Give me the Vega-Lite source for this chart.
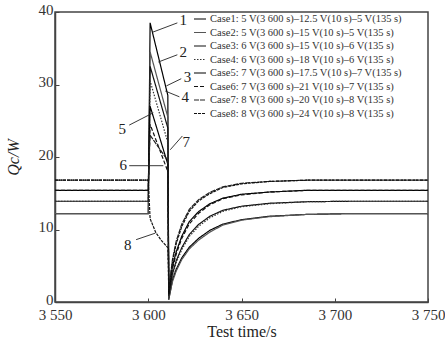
{
  "$schema": "https://vega.github.io/schema/vega-lite/v6.json",
  "width": 373,
  "height": 290,
  "autosize": {"type": "none"},
  "padding": {"left": 55, "top": 12, "right": 17, "bottom": 52},
  "background": "white",
  "config": {
    "font": "Liberation Serif",
    "view": {"stroke": "#444", "strokeWidth": 1.5},
    "axis": {
      "grid": false,
      "domainColor": "#444",
      "domainWidth": 1.5,
      "tickColor": "#444",
      "tickSize": -4,
      "labelFont": "Liberation Serif",
      "labelFontSize": 15,
      "labelColor": "#333",
      "titleFont": "Liberation Serif",
      "titleFontSize": 16,
      "titleFontWeight": "normal",
      "titleColor": "#222"
    },
    "legend": {
      "labelFont": "Liberation Serif",
      "labelFontSize": 10.5,
      "labelColor": "#333",
      "labelLimit": 0
    }
  },
  "layer": [
    {
      "data": {"values": [
        {"case": "Case1: 5 V(3 600 s)–12.5 V(10 s)–5 V(135 s)", "t": 3550, "q": 12.2},
        {"case": "Case1: 5 V(3 600 s)–12.5 V(10 s)–5 V(135 s)", "t": 3600, "q": 12.2},
        {"case": "Case1: 5 V(3 600 s)–12.5 V(10 s)–5 V(135 s)", "t": 3601, "q": 38.5},
        {"case": "Case1: 5 V(3 600 s)–12.5 V(10 s)–5 V(135 s)", "t": 3610.5, "q": 28.5},
        {"case": "Case1: 5 V(3 600 s)–12.5 V(10 s)–5 V(135 s)", "t": 3611, "q": 0.3},
        {"case": "Case1: 5 V(3 600 s)–12.5 V(10 s)–5 V(135 s)", "t": 3613, "q": 3.05},
        {"case": "Case1: 5 V(3 600 s)–12.5 V(10 s)–5 V(135 s)", "t": 3615, "q": 4.51},
        {"case": "Case1: 5 V(3 600 s)–12.5 V(10 s)–5 V(135 s)", "t": 3618, "q": 6.1},
        {"case": "Case1: 5 V(3 600 s)–12.5 V(10 s)–5 V(135 s)", "t": 3622, "q": 7.56},
        {"case": "Case1: 5 V(3 600 s)–12.5 V(10 s)–5 V(135 s)", "t": 3627, "q": 8.78},
        {"case": "Case1: 5 V(3 600 s)–12.5 V(10 s)–5 V(135 s)", "t": 3633, "q": 9.88},
        {"case": "Case1: 5 V(3 600 s)–12.5 V(10 s)–5 V(135 s)", "t": 3640, "q": 10.74},
        {"case": "Case1: 5 V(3 600 s)–12.5 V(10 s)–5 V(135 s)", "t": 3650, "q": 11.35},
        {"case": "Case1: 5 V(3 600 s)–12.5 V(10 s)–5 V(135 s)", "t": 3665, "q": 11.83},
        {"case": "Case1: 5 V(3 600 s)–12.5 V(10 s)–5 V(135 s)", "t": 3685, "q": 12.08},
        {"case": "Case1: 5 V(3 600 s)–12.5 V(10 s)–5 V(135 s)", "t": 3710, "q": 12.2},
        {"case": "Case1: 5 V(3 600 s)–12.5 V(10 s)–5 V(135 s)", "t": 3750, "q": 12.2},

        {"case": "Case2: 5 V(3 600 s)–15 V(10 s)–5 V(135 s)", "t": 3550, "q": 12.2},
        {"case": "Case2: 5 V(3 600 s)–15 V(10 s)–5 V(135 s)", "t": 3600, "q": 12.2},
        {"case": "Case2: 5 V(3 600 s)–15 V(10 s)–5 V(135 s)", "t": 3601, "q": 34.5},
        {"case": "Case2: 5 V(3 600 s)–15 V(10 s)–5 V(135 s)", "t": 3610.5, "q": 25.5},
        {"case": "Case2: 5 V(3 600 s)–15 V(10 s)–5 V(135 s)", "t": 3611, "q": 0.5},
        {"case": "Case2: 5 V(3 600 s)–15 V(10 s)–5 V(135 s)", "t": 3613, "q": 2.81},
        {"case": "Case2: 5 V(3 600 s)–15 V(10 s)–5 V(135 s)", "t": 3615, "q": 4.27},
        {"case": "Case2: 5 V(3 600 s)–15 V(10 s)–5 V(135 s)", "t": 3618, "q": 5.86},
        {"case": "Case2: 5 V(3 600 s)–15 V(10 s)–5 V(135 s)", "t": 3622, "q": 7.32},
        {"case": "Case2: 5 V(3 600 s)–15 V(10 s)–5 V(135 s)", "t": 3627, "q": 8.54},
        {"case": "Case2: 5 V(3 600 s)–15 V(10 s)–5 V(135 s)", "t": 3633, "q": 9.64},
        {"case": "Case2: 5 V(3 600 s)–15 V(10 s)–5 V(135 s)", "t": 3640, "q": 10.61},
        {"case": "Case2: 5 V(3 600 s)–15 V(10 s)–5 V(135 s)", "t": 3650, "q": 11.29},
        {"case": "Case2: 5 V(3 600 s)–15 V(10 s)–5 V(135 s)", "t": 3665, "q": 11.77},
        {"case": "Case2: 5 V(3 600 s)–15 V(10 s)–5 V(135 s)", "t": 3685, "q": 12.08},
        {"case": "Case2: 5 V(3 600 s)–15 V(10 s)–5 V(135 s)", "t": 3710, "q": 12.2},
        {"case": "Case2: 5 V(3 600 s)–15 V(10 s)–5 V(135 s)", "t": 3750, "q": 12.2},

        {"case": "Case3: 6 V(3 600 s)–15 V(10 s)–6 V(135 s)", "t": 3550, "q": 13.9},
        {"case": "Case3: 6 V(3 600 s)–15 V(10 s)–6 V(135 s)", "t": 3600, "q": 13.9},
        {"case": "Case3: 6 V(3 600 s)–15 V(10 s)–6 V(135 s)", "t": 3601, "q": 32.5},
        {"case": "Case3: 6 V(3 600 s)–15 V(10 s)–6 V(135 s)", "t": 3610.5, "q": 24},
        {"case": "Case3: 6 V(3 600 s)–15 V(10 s)–6 V(135 s)", "t": 3611, "q": 0.8},
        {"case": "Case3: 6 V(3 600 s)–15 V(10 s)–6 V(135 s)", "t": 3613, "q": 3.89},
        {"case": "Case3: 6 V(3 600 s)–15 V(10 s)–6 V(135 s)", "t": 3615, "q": 5.7},
        {"case": "Case3: 6 V(3 600 s)–15 V(10 s)–6 V(135 s)", "t": 3618, "q": 7.51},
        {"case": "Case3: 6 V(3 600 s)–15 V(10 s)–6 V(135 s)", "t": 3622, "q": 9.31},
        {"case": "Case3: 6 V(3 600 s)–15 V(10 s)–6 V(135 s)", "t": 3627, "q": 10.7},
        {"case": "Case3: 6 V(3 600 s)–15 V(10 s)–6 V(135 s)", "t": 3633, "q": 11.82},
        {"case": "Case3: 6 V(3 600 s)–15 V(10 s)–6 V(135 s)", "t": 3640, "q": 12.65},
        {"case": "Case3: 6 V(3 600 s)–15 V(10 s)–6 V(135 s)", "t": 3650, "q": 13.21},
        {"case": "Case3: 6 V(3 600 s)–15 V(10 s)–6 V(135 s)", "t": 3665, "q": 13.62},
        {"case": "Case3: 6 V(3 600 s)–15 V(10 s)–6 V(135 s)", "t": 3685, "q": 13.83},
        {"case": "Case3: 6 V(3 600 s)–15 V(10 s)–6 V(135 s)", "t": 3710, "q": 13.9},
        {"case": "Case3: 6 V(3 600 s)–15 V(10 s)–6 V(135 s)", "t": 3750, "q": 13.9},

        {"case": "Case4: 6 V(3 600 s)–18 V(10 s)–6 V(135 s)", "t": 3550, "q": 13.9},
        {"case": "Case4: 6 V(3 600 s)–18 V(10 s)–6 V(135 s)", "t": 3600, "q": 13.9},
        {"case": "Case4: 6 V(3 600 s)–18 V(10 s)–6 V(135 s)", "t": 3601, "q": 30.5},
        {"case": "Case4: 6 V(3 600 s)–18 V(10 s)–6 V(135 s)", "t": 3610.5, "q": 22},
        {"case": "Case4: 6 V(3 600 s)–18 V(10 s)–6 V(135 s)", "t": 3611, "q": 0.6},
        {"case": "Case4: 6 V(3 600 s)–18 V(10 s)–6 V(135 s)", "t": 3613, "q": 3.61},
        {"case": "Case4: 6 V(3 600 s)–18 V(10 s)–6 V(135 s)", "t": 3615, "q": 5.42},
        {"case": "Case4: 6 V(3 600 s)–18 V(10 s)–6 V(135 s)", "t": 3618, "q": 7.23},
        {"case": "Case4: 6 V(3 600 s)–18 V(10 s)–6 V(135 s)", "t": 3622, "q": 9.04},
        {"case": "Case4: 6 V(3 600 s)–18 V(10 s)–6 V(135 s)", "t": 3627, "q": 10.43},
        {"case": "Case4: 6 V(3 600 s)–18 V(10 s)–6 V(135 s)", "t": 3633, "q": 11.61},
        {"case": "Case4: 6 V(3 600 s)–18 V(10 s)–6 V(135 s)", "t": 3640, "q": 12.51},
        {"case": "Case4: 6 V(3 600 s)–18 V(10 s)–6 V(135 s)", "t": 3650, "q": 13.14},
        {"case": "Case4: 6 V(3 600 s)–18 V(10 s)–6 V(135 s)", "t": 3665, "q": 13.55},
        {"case": "Case4: 6 V(3 600 s)–18 V(10 s)–6 V(135 s)", "t": 3685, "q": 13.83},
        {"case": "Case4: 6 V(3 600 s)–18 V(10 s)–6 V(135 s)", "t": 3710, "q": 13.9},
        {"case": "Case4: 6 V(3 600 s)–18 V(10 s)–6 V(135 s)", "t": 3750, "q": 13.9},

        {"case": "Case5: 7 V(3 600 s)–17.5 V(10 s)–7 V(135 s)", "t": 3550, "q": 15.4},
        {"case": "Case5: 7 V(3 600 s)–17.5 V(10 s)–7 V(135 s)", "t": 3600, "q": 15.4},
        {"case": "Case5: 7 V(3 600 s)–17.5 V(10 s)–7 V(135 s)", "t": 3601, "q": 27},
        {"case": "Case5: 7 V(3 600 s)–17.5 V(10 s)–7 V(135 s)", "t": 3610.5, "q": 19},
        {"case": "Case5: 7 V(3 600 s)–17.5 V(10 s)–7 V(135 s)", "t": 3611, "q": 1.2},
        {"case": "Case5: 7 V(3 600 s)–17.5 V(10 s)–7 V(135 s)", "t": 3613, "q": 4.93},
        {"case": "Case5: 7 V(3 600 s)–17.5 V(10 s)–7 V(135 s)", "t": 3615, "q": 6.93},
        {"case": "Case5: 7 V(3 600 s)–17.5 V(10 s)–7 V(135 s)", "t": 3618, "q": 9.09},
        {"case": "Case5: 7 V(3 600 s)–17.5 V(10 s)–7 V(135 s)", "t": 3622, "q": 11.09},
        {"case": "Case5: 7 V(3 600 s)–17.5 V(10 s)–7 V(135 s)", "t": 3627, "q": 12.47},
        {"case": "Case5: 7 V(3 600 s)–17.5 V(10 s)–7 V(135 s)", "t": 3633, "q": 13.55},
        {"case": "Case5: 7 V(3 600 s)–17.5 V(10 s)–7 V(135 s)", "t": 3640, "q": 14.32},
        {"case": "Case5: 7 V(3 600 s)–17.5 V(10 s)–7 V(135 s)", "t": 3650, "q": 14.86},
        {"case": "Case5: 7 V(3 600 s)–17.5 V(10 s)–7 V(135 s)", "t": 3665, "q": 15.17},
        {"case": "Case5: 7 V(3 600 s)–17.5 V(10 s)–7 V(135 s)", "t": 3685, "q": 15.4},
        {"case": "Case5: 7 V(3 600 s)–17.5 V(10 s)–7 V(135 s)", "t": 3710, "q": 15.4},
        {"case": "Case5: 7 V(3 600 s)–17.5 V(10 s)–7 V(135 s)", "t": 3750, "q": 15.4},

        {"case": "Case6: 7 V(3 600 s)–21 V(10 s)–7 V(135 s)", "t": 3550, "q": 15.4},
        {"case": "Case6: 7 V(3 600 s)–21 V(10 s)–7 V(135 s)", "t": 3600, "q": 15.4},
        {"case": "Case6: 7 V(3 600 s)–21 V(10 s)–7 V(135 s)", "t": 3601, "q": 24.5},
        {"case": "Case6: 7 V(3 600 s)–21 V(10 s)–7 V(135 s)", "t": 3610.5, "q": 18},
        {"case": "Case6: 7 V(3 600 s)–21 V(10 s)–7 V(135 s)", "t": 3611, "q": 1.0},
        {"case": "Case6: 7 V(3 600 s)–21 V(10 s)–7 V(135 s)", "t": 3613, "q": 4.62},
        {"case": "Case6: 7 V(3 600 s)–21 V(10 s)–7 V(135 s)", "t": 3615, "q": 6.62},
        {"case": "Case6: 7 V(3 600 s)–21 V(10 s)–7 V(135 s)", "t": 3618, "q": 8.78},
        {"case": "Case6: 7 V(3 600 s)–21 V(10 s)–7 V(135 s)", "t": 3622, "q": 10.78},
        {"case": "Case6: 7 V(3 600 s)–21 V(10 s)–7 V(135 s)", "t": 3627, "q": 12.24},
        {"case": "Case6: 7 V(3 600 s)–21 V(10 s)–7 V(135 s)", "t": 3633, "q": 13.4},
        {"case": "Case6: 7 V(3 600 s)–21 V(10 s)–7 V(135 s)", "t": 3640, "q": 14.25},
        {"case": "Case6: 7 V(3 600 s)–21 V(10 s)–7 V(135 s)", "t": 3650, "q": 14.78},
        {"case": "Case6: 7 V(3 600 s)–21 V(10 s)–7 V(135 s)", "t": 3665, "q": 15.17},
        {"case": "Case6: 7 V(3 600 s)–21 V(10 s)–7 V(135 s)", "t": 3685, "q": 15.4},
        {"case": "Case6: 7 V(3 600 s)–21 V(10 s)–7 V(135 s)", "t": 3710, "q": 15.4},
        {"case": "Case6: 7 V(3 600 s)–21 V(10 s)–7 V(135 s)", "t": 3750, "q": 15.4},

        {"case": "Case7: 8 V(3 600 s)–20 V(10 s)–8 V(135 s)", "t": 3550, "q": 16.8},
        {"case": "Case7: 8 V(3 600 s)–20 V(10 s)–8 V(135 s)", "t": 3600, "q": 16.8},
        {"case": "Case7: 8 V(3 600 s)–20 V(10 s)–8 V(135 s)", "t": 3601, "q": 23},
        {"case": "Case7: 8 V(3 600 s)–20 V(10 s)–8 V(135 s)", "t": 3610.5, "q": 19.5},
        {"case": "Case7: 8 V(3 600 s)–20 V(10 s)–8 V(135 s)", "t": 3611, "q": 1.8},
        {"case": "Case7: 8 V(3 600 s)–20 V(10 s)–8 V(135 s)", "t": 3613, "q": 5.88},
        {"case": "Case7: 8 V(3 600 s)–20 V(10 s)–8 V(135 s)", "t": 3615, "q": 8.4},
        {"case": "Case7: 8 V(3 600 s)–20 V(10 s)–8 V(135 s)", "t": 3618, "q": 10.75},
        {"case": "Case7: 8 V(3 600 s)–20 V(10 s)–8 V(135 s)", "t": 3622, "q": 12.77},
        {"case": "Case7: 8 V(3 600 s)–20 V(10 s)–8 V(135 s)", "t": 3627, "q": 14.11},
        {"case": "Case7: 8 V(3 600 s)–20 V(10 s)–8 V(135 s)", "t": 3633, "q": 15.12},
        {"case": "Case7: 8 V(3 600 s)–20 V(10 s)–8 V(135 s)", "t": 3640, "q": 15.88},
        {"case": "Case7: 8 V(3 600 s)–20 V(10 s)–8 V(135 s)", "t": 3650, "q": 16.38},
        {"case": "Case7: 8 V(3 600 s)–20 V(10 s)–8 V(135 s)", "t": 3665, "q": 16.63},
        {"case": "Case7: 8 V(3 600 s)–20 V(10 s)–8 V(135 s)", "t": 3685, "q": 16.8},
        {"case": "Case7: 8 V(3 600 s)–20 V(10 s)–8 V(135 s)", "t": 3710, "q": 16.8},
        {"case": "Case7: 8 V(3 600 s)–20 V(10 s)–8 V(135 s)", "t": 3750, "q": 16.8},

        {"case": "Case8: 8 V(3 600 s)–24 V(10 s)–8 V(135 s)", "t": 3550, "q": 16.8},
        {"case": "Case8: 8 V(3 600 s)–24 V(10 s)–8 V(135 s)", "t": 3600, "q": 16.8},
        {"case": "Case8: 8 V(3 600 s)–24 V(10 s)–8 V(135 s)", "t": 3601, "q": 11.5},
        {"case": "Case8: 8 V(3 600 s)–24 V(10 s)–8 V(135 s)", "t": 3604, "q": 9.6},
        {"case": "Case8: 8 V(3 600 s)–24 V(10 s)–8 V(135 s)", "t": 3607, "q": 8.5},
        {"case": "Case8: 8 V(3 600 s)–24 V(10 s)–8 V(135 s)", "t": 3610.5, "q": 7.5},
        {"case": "Case8: 8 V(3 600 s)–24 V(10 s)–8 V(135 s)", "t": 3611, "q": 1.5},
        {"case": "Case8: 8 V(3 600 s)–24 V(10 s)–8 V(135 s)", "t": 3613, "q": 5.54},
        {"case": "Case8: 8 V(3 600 s)–24 V(10 s)–8 V(135 s)", "t": 3615, "q": 8.06},
        {"case": "Case8: 8 V(3 600 s)–24 V(10 s)–8 V(135 s)", "t": 3618, "q": 10.42},
        {"case": "Case8: 8 V(3 600 s)–24 V(10 s)–8 V(135 s)", "t": 3622, "q": 12.52},
        {"case": "Case8: 8 V(3 600 s)–24 V(10 s)–8 V(135 s)", "t": 3627, "q": 13.94},
        {"case": "Case8: 8 V(3 600 s)–24 V(10 s)–8 V(135 s)", "t": 3633, "q": 14.95},
        {"case": "Case8: 8 V(3 600 s)–24 V(10 s)–8 V(135 s)", "t": 3640, "q": 15.79},
        {"case": "Case8: 8 V(3 600 s)–24 V(10 s)–8 V(135 s)", "t": 3650, "q": 16.3},
        {"case": "Case8: 8 V(3 600 s)–24 V(10 s)–8 V(135 s)", "t": 3665, "q": 16.63},
        {"case": "Case8: 8 V(3 600 s)–24 V(10 s)–8 V(135 s)", "t": 3685, "q": 16.8},
        {"case": "Case8: 8 V(3 600 s)–24 V(10 s)–8 V(135 s)", "t": 3710, "q": 16.8},
        {"case": "Case8: 8 V(3 600 s)–24 V(10 s)–8 V(135 s)", "t": 3750, "q": 16.8}
      ]},
      "mark": {"type": "line", "clip": true},
      "encoding": {
        "x": {
          "field": "t", "type": "quantitative",
          "scale": {"domain": [3550, 3750], "nice": false, "zero": false},
          "axis": {
            "title": "Test time/s",
            "values": [3550, 3600, 3650, 3700, 3750],
            "labelExpr": "replace(format(datum.value, ','), ',', ' ')",
            "labelPadding": 9,
            "titlePadding": 1,
            "labelFlush": false
          }
        },
        "y": {
          "field": "q", "type": "quantitative",
          "scale": {"domain": [0, 40], "nice": false},
          "axis": {
            "title": "Qc/W",
            "titleFontStyle": "italic",
            "values": [0, 5, 10, 15, 20, 25, 30, 35, 40],
            "labelPadding": 6,
            "labelOffset": -3,
            "titleX": -37,
            "titleY": 145,
            "titleAngle": -90,
            "titleAlign": "center",
            "titleBaseline": "alphabetic"
          }
        },
        "color": {
          "field": "case", "type": "nominal",
          "scale": {"range": ["#000", "#555", "#111", "#333", "#000", "#111", "#222", "#111"]},
          "legend": {
            "title": null,
            "orient": "none",
            "legendX": 138,
            "legendY": 0,
            "symbolType": "stroke",
            "symbolSize": 144,
            "rowPadding": 0.5,
            "labelOffset": 3,
            "labelLimit": 0,
            "padding": 0
          }
        },
        "strokeWidth": {
          "field": "case", "type": "nominal",
          "scale": {"range": [1.2, 1.2, 2, 1.3, 3, 2.2, 1.8, 1.5]},
          "legend": {
            "title": null,
            "orient": "none",
            "legendX": 138,
            "legendY": 0,
            "symbolType": "stroke",
            "symbolSize": 144,
            "rowPadding": 0.5,
            "labelOffset": 3,
            "labelLimit": 0,
            "padding": 0
          }
        },
        "strokeDash": {
          "field": "case", "type": "nominal",
          "scale": {"range": [[1, 0], [1, 0], [1, 0], [1.5, 1.5], [1, 0], [4, 2], [5, 1], [3, 1]]},
          "legend": {
            "title": null,
            "orient": "none",
            "legendX": 138,
            "legendY": 0,
            "symbolType": "stroke",
            "symbolSize": 144,
            "rowPadding": 0.5,
            "labelOffset": 3,
            "labelLimit": 0,
            "padding": 0
          }
        }
      }
    },
    {
      "data": {"values": [
        {"t": 3615.6, "q": 38.5, "t2": 3602.2, "q2": 37.2},
        {"t": 3615.6, "q": 34.1, "t2": 3605.4, "q2": 33.1},
        {"t": 3617.7, "q": 30.8, "t2": 3609.7, "q2": 29.8},
        {"t": 3616.7, "q": 28.3, "t2": 3609.1, "q2": 29.1},
        {"t": 3589.8, "q": 24.4, "t2": 3602.7, "q2": 26.1},
        {"t": 3589.8, "q": 18.8, "t2": 3608.1, "q2": 18.8},
        {"t": 3618.3, "q": 22.9, "t2": 3611.8, "q2": 21.0},
        {"t": 3593.5, "q": 8.6, "t2": 3603.8, "q2": 9.5}
      ]},
      "mark": {"type": "rule", "color": "#222", "strokeWidth": 0.9},
      "encoding": {
        "x": {"field": "t", "type": "quantitative", "title": "Test time/s"},
        "y": {"field": "q", "type": "quantitative", "title": "Qc/W"},
        "x2": {"field": "t2"},
        "y2": {"field": "q2"}
      }
    },
    {
      "data": {"values": [
        {"t": 3618.8, "q": 38.9, "label": "1"},
        {"t": 3618.8, "q": 34.5, "label": "2"},
        {"t": 3621.0, "q": 31.0, "label": "3"},
        {"t": 3619.9, "q": 28.3, "label": "4"},
        {"t": 3586.0, "q": 23.9, "label": "5"},
        {"t": 3586.6, "q": 18.9, "label": "6"},
        {"t": 3620.4, "q": 22.1, "label": "7"},
        {"t": 3589.0, "q": 7.9, "label": "8"}
      ]},
      "mark": {"type": "text", "fontSize": 15, "font": "Liberation Serif", "color": "#222", "baseline": "middle", "align": "center"},
      "encoding": {
        "x": {"field": "t", "type": "quantitative", "title": "Test time/s"},
        "y": {"field": "q", "type": "quantitative", "title": "Qc/W"},
        "text": {"field": "label"}
      }
    }
  ]
}
